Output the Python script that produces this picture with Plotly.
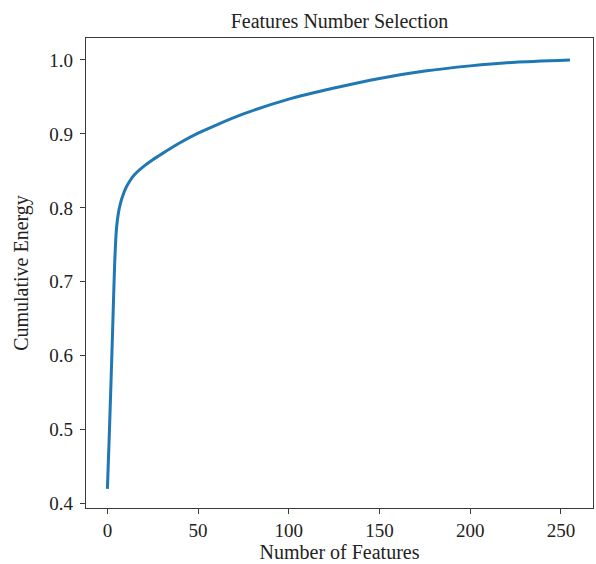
import plotly.graph_objects as go

# Number of features vs cumulative energy
num_features = [0, 1, 2, 3, 4, 5, 6, 7, 8, 10, 12, 15, 20, 25, 30, 40, 50,
                60, 75, 100, 125, 150, 175, 200, 225, 255]
cum_energy = [0.420, 0.490, 0.565, 0.645, 0.725, 0.772, 0.792, 0.804, 0.813,
              0.826, 0.835, 0.845, 0.856, 0.865, 0.873, 0.888, 0.901, 0.912,
              0.927, 0.947, 0.962, 0.975, 0.985, 0.992, 0.997, 1.000]

x_ticks = [0, 50, 100, 150, 200, 250]
y_ticks = [0.4, 0.5, 0.6, 0.7, 0.8, 0.9, 1.0]

FONT = "Liberation Serif, Times New Roman, serif"
AX = "#3a3a3a"
TXT = "#222222"

fig = go.Figure()
fig.add_trace(go.Scatter(
    x=num_features, y=cum_energy, mode="lines",
    line=dict(color="#1f77b4", width=3, shape="spline", smoothing=0.5),
    showlegend=False,
))

axis_common = dict(
    showgrid=False, zeroline=False, showline=True, linecolor=AX, linewidth=1.2,
    mirror=True, ticks="outside", ticklen=5, tickwidth=1.2, tickcolor=AX,
    tickfont=dict(family=FONT, size=19, color=TXT), automargin=False,
)

fig.update_layout(
    width=596, height=564,
    margin=dict(l=86, r=3, t=38, b=56, autoexpand=False),
    paper_bgcolor="white", plot_bgcolor="white",
    font=dict(family=FONT, color=TXT),
    title=dict(text="Features Number Selection", x=0.5, xref="paper",
               y=1 - 21 / 564, yref="container", yanchor="middle",
               xanchor="center", font=dict(family=FONT, size=20, color=TXT)),
    xaxis=dict(axis_common, range=[-11.8, 267.7], tickvals=x_ticks,
               ticktext=[str(v) for v in x_ticks],
               title=dict(text="Number of Features", standoff=2,
                          font=dict(family=FONT, size=20, color=TXT))),
    yaxis=dict(axis_common, range=[0.3942, 1.0297], tickvals=y_ticks,
               ticktext=[f"{v:.1f}" for v in y_ticks], ticklabelstandoff=3,
               title=dict(text="Cumulative Energy", standoff=15,
                          font=dict(family=FONT, size=20, color=TXT))),
)

fig.write_html("out.html", config={"displayModeBar": False},
               post_script="document.body.style.margin='0';")
